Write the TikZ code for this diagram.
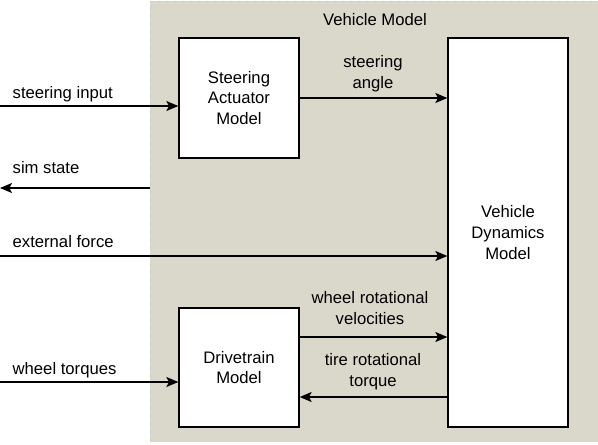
\documentclass[tikz,border=0pt]{standalone}
\usepackage{fontspec}
\setmainfont{Liberation Sans}
\usetikzlibrary{arrows.meta, positioning, calc}
\definecolor{modelbg}{RGB}{218,215,203}

\begin{document}
\begin{tikzpicture}[> = {Stealth[length = 9pt, width = 7.5pt, inset = 2pt]}, % arrow head style
                x = 0.75pt, y = -0.75pt, % one unit per pixel, y down
                line width = 1pt % line style
            ]

            \tikzstyle{every node}=[font = \fontsize{12.5}{15.5}\selectfont,
            align = center, inner sep = 0pt]
            \tikzstyle{block}=[draw = black, fill = white, line width = 1pt,
            minimum width = 90pt]
            \tikzstyle{lbl}=[anchor = west]

            \useasboundingbox (0,0) rectangle (598,444);

            % vehicle model area
            \fill[modelbg] (150,1) rectangle (598,442);
            \draw[white!80!black, dashed, line width = 0.75pt] (150,442) --
            (150,1) -- (598,1);
            \node (vm) at (375,20) {Vehicle Model};

            % blocks
            \node (steer) [block, minimum height = 90pt] at (239,98)
            {Steering\\Actuator\\Model};
            \node (drive) [block, minimum height = 89.25pt] at (239,367.5)
            {Drivetrain\\Model};
            \node (dyn) [block, minimum height = 291.75pt] at (508,232.5)
            {Vehicle\\Dynamics\\Model};

            % free ends
            \coordinate (inSteer) at (0,106); \coordinate (simA) at (150,188);
            \coordinate (simB) at (0,188); \coordinate (inForce) at (0,256);
            \coordinate (inTorque) at (0,382);
            \coordinate (velA) at ($(drive.east)+(0,-30.5)$);
            \coordinate (tqA) at ($(drive.east)+(0,29.5)$);

            \path[->] (inSteer) edge (inSteer -| steer.west);
            \path[->] (steer.east) edge (steer.east -| dyn.west);
            \path[->] (simA) edge (simB);
            \path[->] (inForce) edge (inForce -| dyn.west);
            \path[->] (velA) edge (velA -| dyn.west);
            \path[->] (tqA -| dyn.west) edge (tqA);
            \path[->] (inTorque) edge (inTorque -| drive.west);

            % labels
            \node (lSteer) [lbl] at (12,94) {steering input};
            \node (lSim) [lbl] at (12,168) {sim state};
            \node (lForce) [lbl] at (12,242) {external force};
            \node (lTorque) [lbl] at (12,370) {wheel torques};
            \node (lAngle) at (373,74) {steering\\angle};
            \node (lVel) at (370,308) {wheel rotational\\velocities};
            \node (lTq) at (373,372) {tire rotational\\torque};
        \end{tikzpicture}
\end{document}
